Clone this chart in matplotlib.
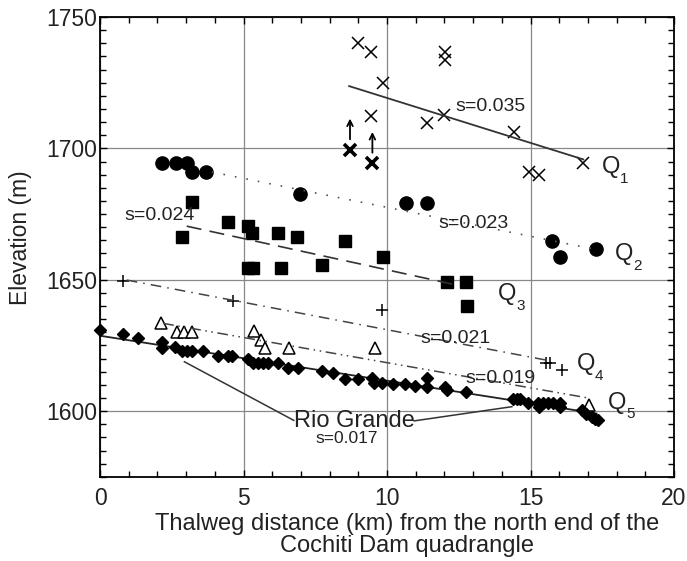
import numpy as np
import matplotlib.pyplot as plt
from matplotlib.ticker import MultipleLocator

plt.rcParams['font.family'] = ['Liberation Sans', 'DejaVu Sans']

# Q1 terrace (x markers)
q1_x = [9.0, 9.44, 9.87, 9.43, 11.4, 12.02, 12.02, 11.99, 14.44, 14.95, 15.31, 16.84]
q1_y = [1740.0, 1736.6, 1724.8, 1712.4, 1709.5, 1736.6, 1733.6, 1712.7, 1706.3, 1691.1, 1689.9, 1694.3]
# Q1 minimum elevations (bold X with arrows)
q1_min_x = [8.71, 9.49]
q1_min_y = [1699.4, 1694.3]
q1_fit_x = [8.68, 16.84]
q1_fit_y = [1723.7, 1695.8]

# Q2 terrace (filled circles)
q2_x = [2.17, 2.64, 3.02, 3.19, 3.68, 6.97, 10.66, 11.38, 15.76, 16.03, 17.27]
q2_y = [1694.3, 1694.3, 1694.5, 1691.1, 1691.1, 1682.5, 1679.3, 1679.3, 1664.7, 1658.8, 1661.6]
q2_fit_x = [3.9, 17.2]
q2_fit_y = [1691.0, 1661.7]

# Q3 terrace (filled squares)
q3_x = [3.22, 2.87, 4.45, 5.15, 5.31, 5.15, 5.32, 6.21, 6.3, 6.85, 7.75, 8.54, 9.85, 12.1, 12.75, 12.78]
q3_y = [1679.5, 1666.4, 1671.8, 1670.6, 1667.9, 1654.3, 1654.3, 1667.9, 1654.3, 1666.4, 1655.6,
        1664.9, 1658.8, 1649.2, 1649.2, 1640.0]
q3_fit_x = [3.02, 12.43]
q3_fit_y = [1670.4, 1648.0]

# Q4 terrace (plus markers)
q4_x = [0.81, 4.65, 9.84, 15.54, 15.68, 16.09]
q4_y = [1649.5, 1642.0, 1638.5, 1618.2, 1618.2, 1615.6]
q4_fit_x = [0.93, 15.56]
q4_fit_y = [1649.9, 1619.4]

# Q5 terrace (open triangles)
q5_x = [2.13, 2.67, 2.93, 3.19, 5.38, 5.6, 5.75, 6.59, 9.58, 17.05]
q5_y = [1633.4, 1630.0, 1630.0, 1630.0, 1630.5, 1627.0, 1623.9, 1623.9, 1623.9, 1602.3]
q5_fit_x = [2.2, 17.07]
q5_fit_y = [1633.4, 1604.9]

# Rio Grande thalweg (filled diamonds)
rg_x = [0.0, 0.81, 1.31, 2.15, 2.17, 2.61, 2.87, 3.02, 3.19, 3.6, 4.1, 4.45, 4.61, 5.17, 5.34,
        5.52, 5.69, 5.86, 6.21, 6.56, 6.89, 7.72, 8.13, 8.54, 9.0, 9.47, 9.55, 9.81, 10.22,
        10.63, 10.98, 11.38, 11.38, 12.02, 12.08, 12.74, 14.4, 14.52, 14.63, 14.92, 15.27,
        15.44, 15.62, 15.79, 16.03, 15.3, 16.03, 16.78, 16.95, 17.13, 17.25, 17.36]
rg_y = [1630.9, 1629.2, 1627.7, 1626.2, 1624.1, 1624.3, 1622.9, 1622.9, 1622.9, 1622.9, 1621.1,
        1621.1, 1621.1, 1619.7, 1618.2, 1618.2, 1618.2, 1618.2, 1618.2, 1616.6, 1616.6, 1615.2,
        1614.6, 1612.1, 1612.1, 1612.5, 1610.8, 1610.8, 1610.2, 1610.2, 1609.5, 1612.5, 1609.3,
        1609.3, 1608.0, 1607.4, 1604.5, 1604.5, 1604.5, 1603.2, 1603.1, 1603.1, 1603.1, 1603.1,
        1603.1, 1601.7, 1601.7, 1600.4, 1599.1, 1597.8, 1597.2, 1596.6]
rg_fit_x = [0.0, 17.3]
rg_fit_y = [1628.7, 1599.1]

# terrace labels
q_names = ['1', '2', '3', '4', '5']
q_label_x = [17.48, 17.94, 13.87, 16.62, 17.7]
q_label_y = [1690.5, 1657.5, 1642.3, 1615.6, 1601.0]

fig = plt.figure(figsize=(6.87, 5.61), dpi=100)
ax = fig.add_axes([0.1456, 0.150, 0.8355, 0.8197])

ax.set_xlim(0, 20)
ax.set_ylim(1575, 1750)
ax.xaxis.set_major_locator(MultipleLocator(5))
ax.xaxis.set_minor_locator(MultipleLocator(1))
ax.yaxis.set_major_locator(MultipleLocator(50))
ax.yaxis.set_minor_locator(MultipleLocator(5))
ax.tick_params(which='both', direction='in', top=True, right=True, labelsize=16.5,
               width=1, labelcolor='#222222')
ax.tick_params(which='major', length=5)
ax.tick_params(which='minor', length=4)
ax.tick_params(axis='x', which='major', pad=7)
ax.tick_params(axis='y', which='major', pad=2)
ax.grid(True, which='major', color='#888888', linewidth=0.9)
ax.set_axisbelow(True)
for s in ax.spines.values():
    s.set_linewidth(1.3)

k = 'black'
# Q1
ax.plot(q1_x, q1_y, 'x', color=k, ms=8, mew=1.1)
ax.plot(q1_min_x, q1_min_y, 'x', color=k, ms=8, mew=2.6)
for x, y in zip(q1_min_x, q1_min_y):
    ax.annotate('', xy=(x, y + 13), xytext=(x, y + 3),
                arrowprops=dict(arrowstyle='->', color=k, lw=1.3))
ax.plot(q1_fit_x, q1_fit_y, '-', color='#333333', lw=1.3)

# Q2
ax.plot(q2_x, q2_y, 'o', color=k, ms=9.5)
ax.plot(q2_fit_x, q2_fit_y, color='#555555', lw=1.2, ls=(0, (1, 6)))

# Q3
ax.plot(q3_x, q3_y, 's', color=k, ms=8)
ax.plot(q3_fit_x, q3_fit_y, color='#333333', lw=1.2, ls=(0, (9, 5)))

# Q4
ax.plot(q4_x, q4_y, '+', color=k, ms=9, mew=1.1)
ax.plot(q4_fit_x, q4_fit_y, color='#444444', lw=1.1, ls=(0, (7, 4, 1, 4)))

# Q5
ax.plot(q5_x, q5_y, '^', mfc='white', mec=k, ms=8, mew=1.1)
ax.plot(q5_fit_x, q5_fit_y, color='#444444', lw=1.1, ls=(0, (7, 3, 1, 3, 1, 3)))

# Rio Grande
ax.plot(rg_fit_x, rg_fit_y, '-', color='#222222', lw=1.3)
ax.plot(rg_x, rg_y, 'D', color=k, ms=6.5, clip_on=False)

# slope labels
tk = dict(color='#222222', fontsize=14, ha='center', va='center')
ax.text(13.6, 1716, 's=0.035', **tk)
ax.text(13.0, 1671.6, 's=0.023', **tk)
ax.text(2.07, 1674.3, 's=0.024', **tk)
ax.text(12.37, 1627.8, 's=0.021', **tk)
ax.text(13.94, 1612.6, 's=0.019', **tk)
ax.text(8.6, 1589.7, 's=0.017', ha='center', va='center', color='#222222', fontsize=12.5)
ax.text(8.85, 1596.2, 'Rio Grande', ha='center', va='center', color='#222222', fontsize=17)
ax.plot([6.75, 2.94], [1596.5, 1618.8], color='#333333', lw=1.1)
ax.plot([10.95, 14.35], [1596.3, 1601.7], color='#333333', lw=1.1)

# Q labels with lowered subscripts
for n, x, y in zip(q_names, q_label_x, q_label_y):
    ax.text(x, y, 'Q', color='#222222', fontsize=17, ha='left', va='baseline')
    ax.annotate(n, xy=(x, y), xytext=(13, -7), textcoords='offset points',
                color='#222222', fontsize=11, ha='left', va='baseline')

ax.set_ylabel('Elevation (m)', fontsize=16.5, color='#222222')
ax.yaxis.set_label_coords(-0.118, 0.52)
ax.set_xlabel('Thalweg distance (km) from the north end of the\nCochiti Dam quadrangle',
              fontsize=17, color='#222222', linespacing=1.0)
ax.xaxis.set_label_coords(0.535, -0.078)

fig.savefig('out.png', dpi=100)
